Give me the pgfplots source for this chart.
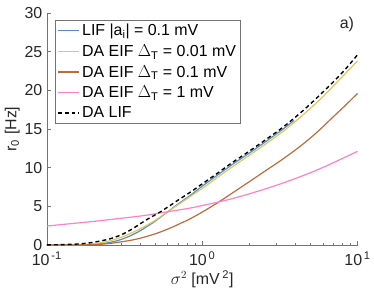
\documentclass[border=0pt]{standalone}
\usepackage{fontspec}
\setmainfont{Liberation Sans}
\usepackage{pgfplots}
\pgfplotsset{compat=1.18}
\definecolor{cblue}{rgb}{0.32,0.56,0.78}
\definecolor{cyellow}{rgb}{0.88,0.78,0.36}
\definecolor{cbrown}{rgb}{0.74,0.42,0.24}
\definecolor{cpink}{rgb}{1.0,0.50,0.78}
\definecolor{axgray}{rgb}{0.45,0.45,0.45}
\begin{document}
\begin{tikzpicture}
\begin{axis}[
  scale only axis,
  width=312pt, height=233pt,
  xmode=log,
  xmin=0.1, xmax=10, ymin=0, ymax=30,
  xtick={0.1,1,10},
  xticklabels={10\textsuperscript{\,-1},10\textsuperscript{\,0},10\textsuperscript{\,1}},
  minor xtick={0.2,0.3,0.4,0.5,0.6,0.7,0.8,0.9,2,3,4,5,6,7,8,9},
  ytick={0,5,10,15,20,25,30},
  yticklabels={0,5,10,15,20,25,30},
  axis x line*=bottom, axis y line*=left,
  axis line style={-, axgray, line width=0.6pt},
  tick style={axgray, line width=0.6pt},
  tick align=inside,
  major tick length=4pt, minor tick length=2.5pt,
  tick label style={font=\fontsize{16}{19}\selectfont, text=black!85},
  xticklabel style={yshift=-3pt},
  yticklabel style={xshift=-1pt},
  label style={font=\fontsize{16}{19}\selectfont, text=black!85},
  xlabel={$\sigma^2$ [mV\,\textsuperscript{2}]},
  ylabel={r\textsubscript{0} [Hz]},
  xlabel style={yshift=2pt},
  ylabel style={yshift=-2pt},
  legend style={at={(0.025,0.97)}, anchor=north west, draw=axgray, line width=0.6pt,
    font=\fontsize{16}{19}\selectfont, row sep=3.5pt, inner sep=2pt,
    cells={anchor=west}},
  legend image code/.code={\draw[#1] (0pt,0pt) -- (22pt,0pt);},
  clip=false,
]
\addplot[cblue, line width=1.2pt, smooth] coordinates {
(0.1,0)(0.15,0.01)(0.2,0.08)(0.25,0.3)(0.3,0.7)(0.35,1.25)(0.4,1.85)(0.45,2.5)(0.5,3.1)(0.6,4.3)(0.7,5.3)(0.85,6.5)(1,7.6)(1.2,8.75)(1.34,9.45)(1.6,10.55)(2,11.85)(2.6,13.45)(3.3,14.95)(3.9,16.1)};
\addlegendentry{LIF |a\textsubscript{i}| = 0.1 mV}
\addplot[cyellow, line width=1.2pt, smooth] coordinates {
(0.1,0)(0.15,0.02)(0.2,0.15)(0.25,0.5)(0.3,0.98)(0.35,1.55)(0.4,2.1)(0.5,3.2)(0.61,4.4)(0.7,5.2)(0.85,6.35)(1,7.3)(1.2,8.45)(1.5,9.85)(2,11.55)(2.6,13.15)(3.3,14.65)(4.3,16.55)(5.8,18.9)(7.5,21.2)(10,23.8)};
\addlegendentry{DA EIF $\Delta$\textsubscript{T} = 0.01 mV}
\addplot[cbrown, line width=1.2pt, smooth] coordinates {
(0.1,0)(0.15,0.0)(0.2,0.04)(0.25,0.18)(0.3,0.4)(0.35,0.62)(0.4,0.88)(0.5,1.45)(0.6,2.05)(0.7,2.65)(0.83,3.35)(1,4.25)(1.3,5.65)(1.6,6.85)(2,8.15)(2.6,9.7)(3.3,11.1)(4.3,12.8)(5.5,14.6)(7,16.6)(8.5,18.2)(10,19.6)};
\addlegendentry{DA EIF $\Delta$\textsubscript{T} = 0.1 mV}
\addplot[cpink, line width=1.2pt, smooth] coordinates {
(0.1,2.45)(0.15,2.8)(0.2,3.05)(0.3,3.45)(0.42,3.8)(0.6,4.3)(0.8,4.7)(1,5.1)(1.3,5.6)(1.6,6.05)(2,6.6)(2.6,7.3)(3.3,8.0)(4.3,8.85)(5.5,9.7)(7,10.65)(10,12.1)};
\addlegendentry{DA EIF $\Delta$\textsubscript{T} = 1 mV}
\addplot[black, line width=1.4pt, dash pattern=on 4pt off 3pt, smooth] coordinates {
(0.1,0.02)(0.12,0.04)(0.15,0.1)(0.18,0.22)(0.2,0.35)(0.25,0.75)(0.3,1.3)(0.35,2.0)(0.4,2.75)(0.45,3.4)(0.53,4.2)(0.6,4.9)(0.7,5.8)(0.85,6.9)(1,7.9)(1.2,9.0)(1.34,9.7)(1.6,10.8)(2,12.1)(2.6,13.7)(3.3,15.2)(4.3,17.1)(5.2,18.6)(7,21.1)(8.5,22.9)(10,24.6)};
\addlegendentry{DA LIF}
\node[anchor=north east, font=\fontsize{16}{19}\selectfont, text=black!85] at (rel axis cs:1,1) {a)};
\end{axis}
\path (current axis.south west) ++(-47pt,-47pt);
\path (current axis.north east) ++(15pt,13pt);
\end{tikzpicture}
\end{document}
